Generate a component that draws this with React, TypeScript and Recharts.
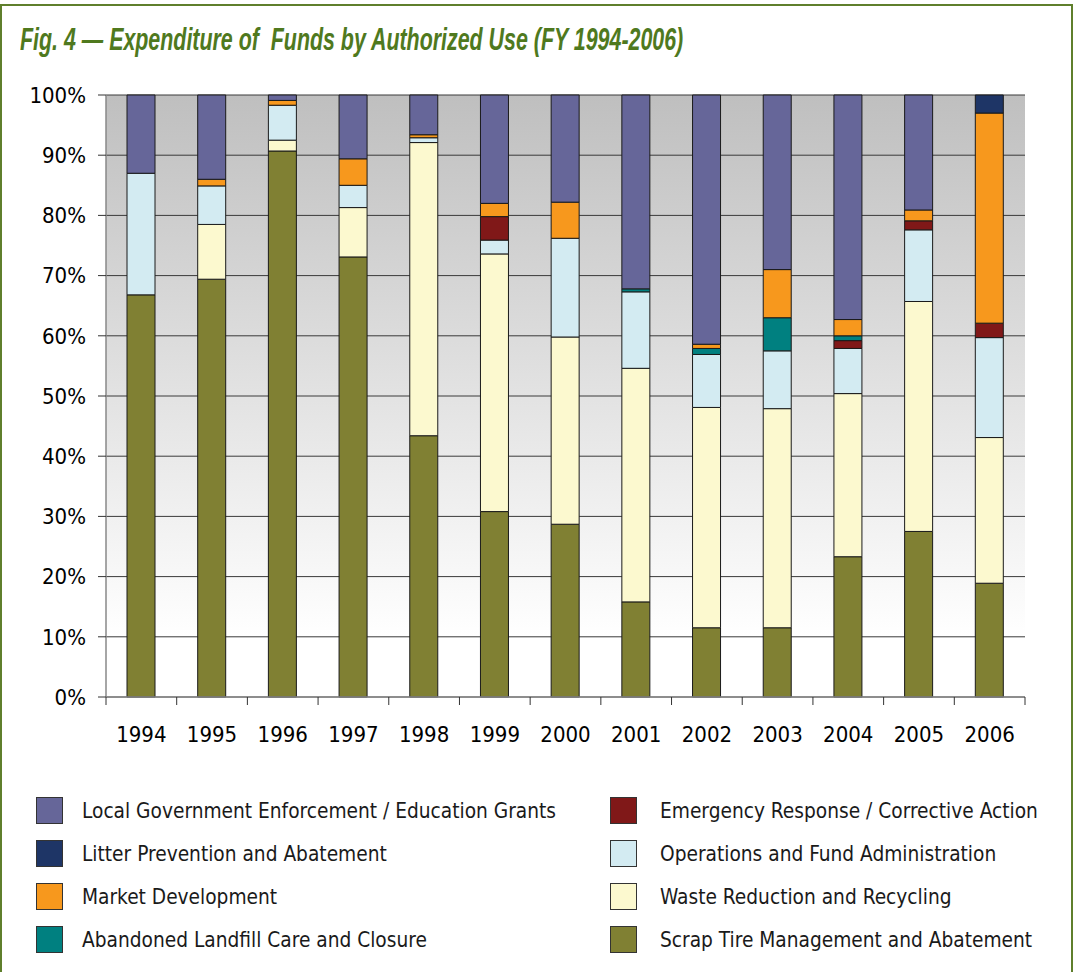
import React from 'react';
import { BarChart, Bar, XAxis, YAxis, CartesianGrid } from 'recharts';

const years = ['1994', '1995', '1996', '1997', '1998', '1999', '2000', '2001', '2002', '2003', '2004', '2005', '2006'];
const scrapTire = [66.8, 69.4, 90.7, 73.1, 43.4, 30.8, 28.7, 15.8, 11.5, 11.5, 23.3, 27.5, 18.9];
const wasteReduction = [0, 9.1, 1.8, 8.2, 48.7, 42.8, 31.1, 38.8, 36.6, 36.4, 27.1, 38.2, 24.2];
const operations = [20.2, 6.4, 5.8, 3.7, 0.8, 2.3, 16.4, 12.7, 8.8, 9.6, 7.5, 11.9, 16.6];
const emergency = [0, 0, 0, 0, 0, 3.9, 0, 0, 0, 0, 1.3, 1.5, 2.4];
const abandonedLandfill = [0, 0, 0, 0, 0, 0, 0, 0.5, 1.0, 5.5, 0.8, 0, 0];
const marketDev = [0, 1.1, 0.8, 4.4, 0.5, 2.2, 6.0, 0, 0.7, 8.0, 2.7, 1.8, 34.9];
const litter = [0, 0, 0, 0, 0, 0, 0, 0, 0, 0, 0, 0, 3.0];
const localGov = [13.0, 14.0, 0.9, 10.6, 6.6, 18.0, 17.8, 32.2, 41.4, 29.0, 37.3, 19.1, 0];
const yTicks = [0, 0.1, 0.2, 0.3, 0.4, 0.5, 0.6, 0.7, 0.8, 0.9, 1.0];

const series = [
  { key: 'scrap', name: 'Scrap Tire Management and Abatement', values: scrapTire, color: '#808033' },
  { key: 'waste', name: 'Waste Reduction and Recycling', values: wasteReduction, color: '#fcf9cf' },
  { key: 'ops', name: 'Operations and Fund Administration', values: operations, color: '#d3ebf2' },
  { key: 'emerg', name: 'Emergency Response / Corrective Action', values: emergency, color: '#801818' },
  { key: 'aband', name: 'Abandoned Landfill Care and Closure', values: abandonedLandfill, color: '#008080' },
  { key: 'market', name: 'Market Development', values: marketDev, color: '#f7981d' },
  { key: 'litter', name: 'Litter Prevention and Abatement', values: litter, color: '#1e3566' },
  { key: 'local', name: 'Local Government Enforcement / Education Grants', values: localGov, color: '#666699' },
];

const legendOrder = [
  ['local', 'emerg'],
  ['litter', 'ops'],
  ['market', 'waste'],
  ['aband', 'scrap'],
];

const data = years.map((y, i) => {
  const row: Record<string, any> = { year: y };
  series.forEach((s) => (row[s.key] = s.values[i]));
  return row;
});

const CHART_W = 1073;
const MARGIN_RIGHT = 48;
const Y_AXIS_W = 106;
const BAND = (CHART_W - MARGIN_RIGHT - Y_AXIS_W) / years.length;
const FONT = '"DejaVu Sans Condensed", "DejaVu Sans", sans-serif';

const XTick = (props: any) => {
  const { x, y, payload, index } = props;
  const isLast = index === years.length - 1;
  return (
    <g>
      <line x1={x - BAND / 2} y1={y} x2={x - BAND / 2} y2={y + 8} stroke="#333" strokeWidth={1} />
      {isLast && <line x1={x + BAND / 2} y1={y} x2={x + BAND / 2} y2={y + 8} stroke="#333" strokeWidth={1} />}
      <text x={x} y={y + 45} textAnchor="middle" fontFamily={FONT} fontSize={22} fill="#000">
        {payload.value}
      </text>
    </g>
  );
};

export default function App() {
  const byKey: Record<string, any> = {};
  series.forEach((s) => (byKey[s.key] = s));
  return (
    <div style={{ position: 'absolute', left: 0, top: 0, width: 1073, height: 972, background: '#fff', overflow: 'hidden' }}>
      <div
        style={{
          position: 'absolute',
          left: 0,
          top: 4,
          width: 1073,
          height: 1000,
          boxSizing: 'border-box',
          border: '2px solid #5f7f2c',
        }}
      />
      <div
        style={{
          position: 'absolute',
          left: 20,
          top: 22,
          fontFamily: '"Liberation Sans Narrow", "Liberation Sans", sans-serif',
          fontWeight: 'bold',
          fontStyle: 'italic',
          fontSize: 31,
          color: '#4f791e',
          whiteSpace: 'pre',
          transform: 'scaleX(0.69)',
          transformOrigin: 'left top',
        }}
      >
        {'Fig. 4 — Expenditure of  Funds by Authorized Use (FY 1994-2006)'}
      </div>
      <div style={{ position: 'absolute', left: 0, top: 0 }}>
        <BarChart
          width={CHART_W}
          height={760}
          data={data}
          stackOffset="expand"
          barSize={28}
          margin={{ top: 95, right: MARGIN_RIGHT, left: 0, bottom: 13 }}
        >
          <defs>
            <linearGradient id="plotBg" x1="0" y1="0" x2="0" y2="1">
              <stop offset="0%" stopColor="#bfbfbf" />
              <stop offset="90%" stopColor="#ffffff" />
              <stop offset="100%" stopColor="#ffffff" />
            </linearGradient>
          </defs>
          <CartesianGrid
            vertical={false}
            horizontal={true}
            fill="url(#plotBg)"
            fillOpacity={1}
            stroke="#3a3a3a"
            strokeWidth={1}
          />
          <XAxis
            dataKey="year"
            height={50}
            axisLine={{ stroke: '#888', strokeWidth: 1.5 }}
            tickLine={false}
            tickSize={0}
            tickMargin={0}
            tick={<XTick />}
            interval={0}
          />
          <YAxis
            width={Y_AXIS_W}
            domain={[0, 1]}
            ticks={yTicks}
            tickFormatter={(v: number) => `${Math.round(v * 100)}%`}
            axisLine={{ stroke: '#888', strokeWidth: 1.5 }}
            tickLine={{ stroke: '#333' }}
            tickSize={8}
            tickMargin={12}
            tick={{ fontFamily: FONT, fontSize: 22, fill: '#000' }}
            interval={0}
          />
          {series.map((s) => (
            <Bar
              key={s.key}
              dataKey={s.key}
              name={s.name}
              stackId="a"
              fill={s.color}
              stroke="#1a1a1a"
              strokeWidth={1}
              isAnimationActive={false}
            />
          ))}
        </BarChart>
      </div>
      {legendOrder.map((row, r) =>
        row.map((k, c) => {
          const s = byKey[k];
          return (
            <div
              key={k}
              style={{
                position: 'absolute',
                left: c === 0 ? 36 : 610,
                top: 797 + r * 43,
                height: 27,
                display: 'flex',
                alignItems: 'center',
              }}
            >
              <div
                style={{
                  width: 25,
                  height: 25,
                  background: s.color,
                  border: '1px solid #333',
                }}
              />
              <span
                style={{
                  marginLeft: c === 0 ? 19 : 23,
                  fontFamily: FONT,
                  fontSize: 20.7,
                  color: '#1a1a1a',
                  whiteSpace: 'nowrap',
                }}
              >
                {s.name}
              </span>
            </div>
          );
        })
      )}
    </div>
  );
}
